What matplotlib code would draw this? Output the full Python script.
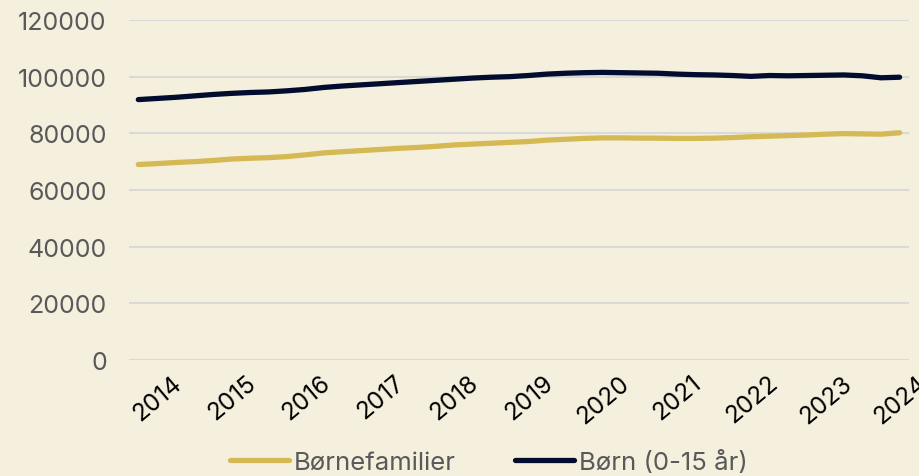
import matplotlib

matplotlib.use("Agg")
import matplotlib.pyplot as plt
from matplotlib.transforms import ScaledTranslation

plt.rcParams["font.family"] = ["Inter", "DejaVu Sans"]

# Quarterly values, 2014 Q1 - 2024 Q2
years = ["2014", "2015", "2016", "2017", "2018", "2019", "2020", "2021", "2022", "2023", "2024"]
boernefamilier = [
    69000, 69300, 69700, 70000, 70400, 70900, 71200, 71400, 71800, 72400,
    73100, 73500, 73900, 74300, 74700, 75000, 75400, 75900, 76200, 76500,
    76800, 77100, 77600, 77900, 78200, 78400, 78400, 78300, 78300, 78200,
    78200, 78300, 78500, 78800, 79000, 79200, 79400, 79700, 79900, 79800,
    79700, 80200,
]
boern = [
    91900, 92300, 92700, 93200, 93700, 94100, 94400, 94600, 95000, 95500,
    96200, 96700, 97100, 97500, 97900, 98300, 98700, 99100, 99500, 99800,
    100000, 100400, 100900, 101200, 101400, 101500, 101400, 101300, 101200, 100900,
    100700, 100600, 100400, 100100, 100400, 100300, 100400, 100500, 100600, 100300,
    99600, 99800,
]
y_ticks = [0, 20000, 40000, 60000, 80000, 100000, 120000]

BG = "#F5F0DD"
GOLD = "#D4B955"
NAVY = "#020C2E"
GREY = "#595959"

fig = plt.figure(figsize=(9.19, 4.77), dpi=100, facecolor=BG)
ax = fig.add_axes([0.1404, 0.2432, 0.8486, 0.7128])
ax.set_facecolor(BG)

x = list(range(len(boern)))
ax.plot(x, boernefamilier, color=GOLD, lw=3.8, solid_capstyle="round", label="Børnefamilier", zorder=3)
ax.plot(x, boern, color=NAVY, lw=3.8, solid_capstyle="round", label="Børn (0-15 år)", zorder=3)

ax.set_xlim(-0.5, len(boern) - 0.5)
ax.set_ylim(0, 120000)
ax.set_yticks(y_ticks)
ax.set_yticklabels([str(v) for v in y_ticks])
ax.grid(axis="y", color="#D9D9D9", lw=1.5, zorder=0)
ax.set_axisbelow(True)
for s in ax.spines.values():
    s.set_visible(False)

ax.set_xticks(range(0, len(boern), 4))
ax.set_xticklabels(years)
ax.tick_params(axis="both", length=0)
ax.tick_params(axis="y", labelsize=18, labelcolor=GREY, pad=16)
ax.tick_params(axis="x", labelsize=17.5, labelcolor="black", pad=8)

shift = ScaledTranslation(0.19, 0, fig.dpi_scale_trans)
for lbl in ax.get_xticklabels():
    lbl.set_rotation(40)
    lbl.set_ha("center")
    lbl.set_va("top")
    lbl.set_transform(lbl.get_transform() + shift)

leg = fig.legend(
    loc="center",
    bbox_to_anchor=(0.532, 0.03),
    ncol=2,
    frameon=False,
    fontsize=18.5,
    handlelength=2.3,
    handletextpad=0.2,
    columnspacing=2.3,
)
for t in leg.get_texts():
    t.set_color(GREY)
for h in leg.get_lines():
    h.set_linewidth(3.8)

fig.savefig("out.png", dpi=100, facecolor=BG)
